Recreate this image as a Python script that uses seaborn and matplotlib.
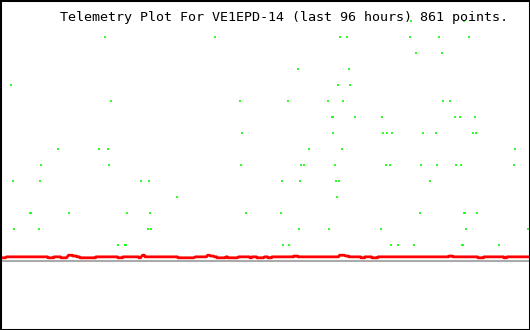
import numpy as np
import pandas as pd
import matplotlib
matplotlib.use("Agg")
import matplotlib.pyplot as plt
import seaborn as sns

# ---- data (time slot index over 96 h, telemetry level) ----
title = "Telemetry Plot For VE1EPD-14 (last 96 hours) 861 points."

# green telemetry samples: level -> time slots
g15 = [410, 463]
g14 = [104, 214, 339, 346, 409, 438, 468]
g13 = [415, 441]
g12 = [297, 348]
g11 = [10, 337, 349]
g10 = [110, 239, 287, 327, 342, 442, 449]
g9 = [331, 332, 354, 381, 454, 459, 474]
g8 = [241, 332, 382, 386, 391, 422, 435, 472, 475]
g7 = [57, 98, 107, 308, 341, 514]
g6 = [40, 108, 240, 300, 303, 334, 385, 389, 420, 436, 455, 460, 513]
g5 = [12, 39, 140, 148, 281, 299, 335, 338, 429]
g4 = [176, 336]
g3 = [29, 30, 68, 126, 149, 245, 280, 419, 463, 464, 476]
g2 = [13, 38, 147, 150, 298, 328, 380, 465, 527]
g1 = [117, 124, 125, 282, 288, 390, 397, 413, 461, 462, 498]
green_levels = {15: g15, 14: g14, 13: g13, 12: g12, 11: g11, 10: g10, 9: g9,
                8: g8, 7: g7, 6: g6, 5: g5, 4: g4, 3: g3, 2: g2, 1: g1}

# red series as segments (start slot, end slot, value)
seg_start = [0, 6, 47.5, 53.5, 60.5, 68, 72.5, 76.5, 79.5, 95.5, 117.5, 122.5,
             138.5, 142, 144.5, 177.5, 195, 207, 210, 214, 216.5, 225.5, 227.5,
             238, 249.5, 251.5, 256.5, 264, 267.5, 271.5, 293.5, 297.5, 339,
             345, 348.5, 360.5, 364.5, 371.5, 377.5, 448.5, 452.5, 477.5,
             483.5, 503.5, 506.5]
seg_end = [5, 47, 53, 60, 66, 72, 76, 79, 95, 117, 122, 138, 140, 144, 177, 193,
           206, 209, 213, 216, 225, 227, 237, 249, 251, 256, 263, 267, 271, 293,
           297, 338, 344, 348, 360, 364, 371, 377, 448, 452, 477, 483, 503, 506,
           529]
B, D, U, U2 = 0.26, 0.20, 0.36, 0.31
seg_level = [D, B, D, B, D, U, U2, B, D, B, D, B, D, U, B, D, B, U, U2, B, D,
             B, D, B, D, B, D, B, D, B, U2, B, U, U2, B, D, B, D, B, U2, B, D,
             B, D, B]

grey_t = [0, 529]
grey_v = [0.02, 0.02]

# ---- build tables ----
gdf = pd.DataFrame([(t, lvl) for lvl, ts in green_levels.items() for t in ts],
                   columns=["t", "v"])
red_t, red_v = [], []
for s, e, v in zip(seg_start, seg_end, seg_level):
    red_t += [s, e]
    red_v += [v, v]
rdf = pd.DataFrame({"t": red_t, "v": red_v})
grdf = pd.DataFrame({"t": grey_t, "v": grey_v})

sns.set_style("white")
fig = plt.figure(figsize=(5.3, 3.3), dpi=100)
ax = fig.add_axes([0, 0, 1, 1])

sns.lineplot(data=grdf, x="t", y="v", color="#aaaaaa", linewidth=1.5, ax=ax,
             estimator=None, sort=False)
sns.lineplot(data=rdf, x="t", y="v", color="#ff0000", linewidth=2.0, ax=ax,
             estimator=None, sort=False)
sns.scatterplot(data=gdf, x="t", y="v", color="#00ff00", marker="|", s=3.0,
                linewidth=1.2, ax=ax, legend=False)

ax.set_xlim(-0.5, 529.5)
ax.set_ylim(-4.3125, 16.3125)
ax.set_xticks([])
ax.set_yticks([])
ax.set_xlabel("")
ax.set_ylabel("")
for sp in ax.spines.values():
    sp.set_visible(True)
    sp.set_color("black")
    sp.set_linewidth(2.2)

fig.text(60 / 530, 1 - 17.5 / 330, title, family="DejaVu Sans Mono",
         fontsize=9.65, ha="left", va="center", color="black")

fig.savefig("out.png", dpi=100, facecolor="white")
